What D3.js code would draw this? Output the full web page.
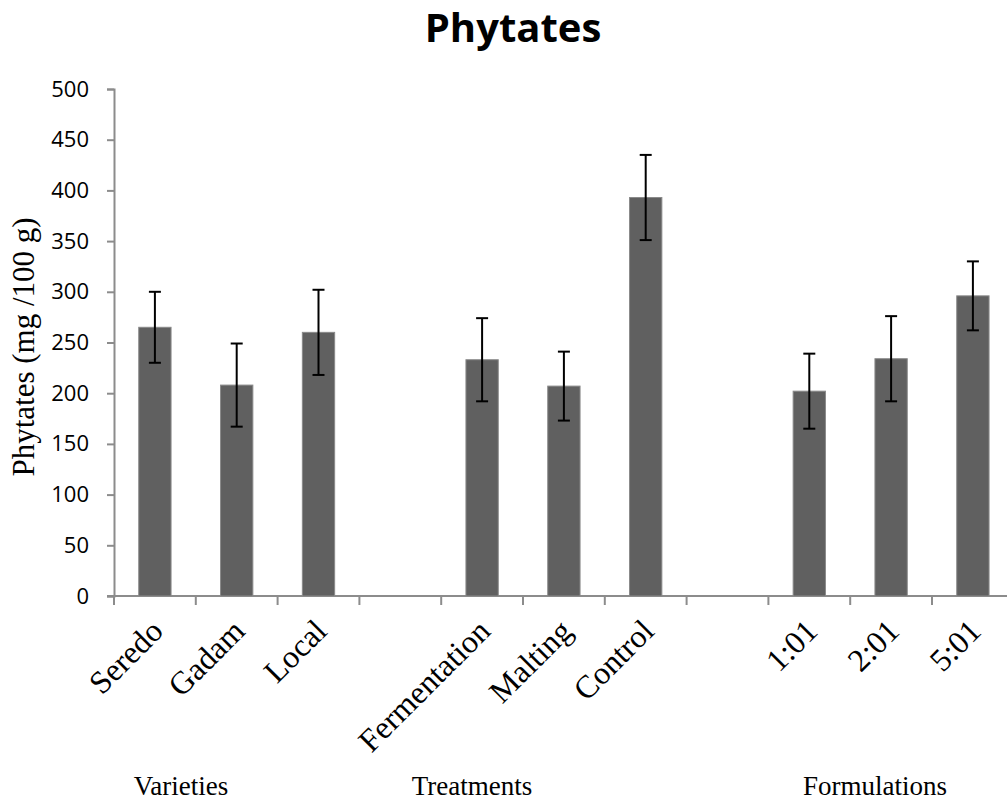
<!DOCTYPE html>
<html>
<head>
<meta charset="utf-8">
<script src="https://cdn.jsdelivr.net/npm/d3@7"></script>
<style>
  body { margin: 0; background: #fff; }
  svg { display: block; }
</style>
</head>
<body>
<div id="chart"></div>
<script>
// Chart data. Empty strings are the gaps between groups.
var categories = ['Seredo', 'Gadam', 'Local', '', 'Fermentation', 'Malting', 'Control', '', '1:01', '2:01', '5:01'];
var phytates = [265, 208, 260, null, 233, 207, 393, null, 202, 234, 296];
var errors = [35, 41, 42, null, 41, 34, 42, null, 37, 42, 34];
var yTicks = [0, 50, 100, 150, 200, 250, 300, 350, 400, 450, 500];
var groupNames = ['Varieties', 'Treatments', 'Formulations'];

var width = 1007,
    height = 801;

var svg = d3.select('#chart')
    .append('svg')
        .attr('width', width)
        .attr('height', height);

// Scales. The band scale runs a little past the right edge, as in the picture.
var x = d3.scaleBand()
    .domain(categories.map(function(d, i){ return i; }))
    .range([114, 114 + 11 * 81.8])
    .padding(0);

var y = d3.scaleLinear()
    .domain([0, 500])
    .range([596, 89]);

var barWidth = x.bandwidth() * 0.395;
var axisColor = '#8c8c8c';

// Title
svg.append('text')
    .attr('x', 513)
    .attr('y', 42)
    .attr('text-anchor', 'middle')
    .style('font', 'bold 40px "Open Sans", sans-serif')
    .text('Phytates');

// Y axis
var yAxisCall = d3.axisLeft(y)
    .tickValues(yTicks)
    .tickSize(7)
    .tickPadding(18);

var yAxis = svg.append('g')
    .attr('class', 'y-axis')
    .attr('transform', 'translate(114, 0)')
    .call(yAxisCall);
yAxis.select('.domain').attr('stroke', axisColor).attr('stroke-width', 2);
yAxis.selectAll('.tick line').attr('stroke', axisColor).attr('stroke-width', 2);
yAxis.selectAll('.tick text')
    .attr('fill', '#000')
    .style('font', '22px "Open Sans", sans-serif');

// Y axis title
svg.append('text')
    .attr('transform', 'translate(34, 347) rotate(-90)')
    .attr('text-anchor', 'middle')
    .style('font', '31px "Liberation Serif", "Times New Roman", serif')
    .text('Phytates (mg /100 g)');

// X axis line and ticks at band boundaries
svg.append('line')
    .attr('x1', 107).attr('x2', width)
    .attr('y1', y(0)).attr('y2', y(0))
    .attr('stroke', axisColor).attr('stroke-width', 2);

svg.selectAll('.x-tick')
    .data(categories)
    .enter().append('line')
        .attr('class', 'x-tick')
        .attr('x1', function(d, i){ return x(i); })
        .attr('x2', function(d, i){ return x(i); })
        .attr('y1', y(0))
        .attr('y2', y(0) + 9)
        .attr('stroke', axisColor)
        .attr('stroke-width', 2);

// Bars
var items = categories.map(function(c, i){
    return {name: c, index: i, value: phytates[i], err: errors[i]};
}).filter(function(d){ return d.value !== null; });

svg.selectAll('.bar')
    .data(items)
    .enter().append('rect')
        .attr('class', 'bar')
        .attr('x', function(d){ return x(d.index) + (x.bandwidth() - barWidth) / 2; })
        .attr('y', function(d){ return y(d.value); })
        .attr('width', barWidth)
        .attr('height', function(d){ return y(0) - y(d.value); })
        .attr('fill', '#606060')
        .attr('stroke', '#8a8a8a')
        .attr('stroke-width', 1);

// Error bars
var errG = svg.selectAll('.err')
    .data(items)
    .enter().append('g')
        .attr('class', 'err')
        .attr('stroke', '#000')
        .attr('stroke-width', 2);

errG.append('line')
    .attr('x1', function(d){ return x(d.index) + x.bandwidth() / 2; })
    .attr('x2', function(d){ return x(d.index) + x.bandwidth() / 2; })
    .attr('y1', function(d){ return y(d.value + d.err); })
    .attr('y2', function(d){ return y(d.value - d.err); });

[1, -1].forEach(function(sign){
    errG.append('line')
        .attr('x1', function(d){ return x(d.index) + x.bandwidth() / 2 - 6; })
        .attr('x2', function(d){ return x(d.index) + x.bandwidth() / 2 + 6; })
        .attr('y1', function(d){ return y(d.value + sign * d.err); })
        .attr('y2', function(d){ return y(d.value + sign * d.err); });
});

// Rotated category labels
svg.selectAll('.x-label')
    .data(items)
    .enter().append('text')
        .attr('class', 'x-label')
        .attr('text-anchor', 'end')
        .attr('transform', function(d){
            return 'translate(' + (x(d.index) + x.bandwidth() / 2 + 10) + ', 633) rotate(-45)';
        })
        .style('font', '32px "Liberation Serif", "Times New Roman", serif')
        .text(function(d){ return d.name; });

// Group labels under the axis
var groupX = [181, 472, 875];
svg.selectAll('.group-label')
    .data(groupNames)
    .enter().append('text')
        .attr('class', 'group-label')
        .attr('x', function(d, i){ return groupX[i]; })
        .attr('y', 795)
        .attr('text-anchor', 'middle')
        .style('font', '27px "Liberation Serif", "Times New Roman", serif')
        .text(function(d){ return d; });
</script>
</body>
</html>
